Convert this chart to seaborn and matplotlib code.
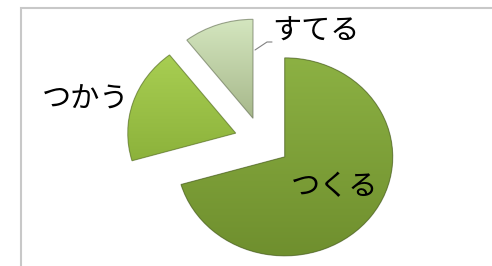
import numpy as np
import matplotlib
matplotlib.use("Agg")
import matplotlib.pyplot as plt
from matplotlib.patches import Rectangle, Wedge
import seaborn as sns

# データ
labels = ["つくる", "つかう", "すてる"]
values = [70.5, 19.0, 10.5]
explode = [0.27, 0.25, 0.24]
# 上から下へのグラデーション色
top_colors = ["#8cb143", "#a8ce52", "#d4e6bf"]
bottom_colors = ["#6f8f2e", "#8cb23b", "#a7b88b"]

W, H = 492, 266
cx, cy = 261.4, 140.8      # 円の中心 (画像ピクセル)
rx, ry = 108.0, 99.0        # 横・縦の半径 (ピクセル)

sns.set_theme(style="white")
plt.rcParams["font.family"] = ["Noto Sans CJK JP", "DejaVu Sans"]

fig = plt.figure(figsize=(W / 100, H / 100), dpi=100)
ax = fig.add_axes([0, 0, 1, 1])

wedges, _ = ax.pie(values, explode=explode, startangle=90, counterclock=False,
                   colors=top_colors, wedgeprops=dict(linewidth=0))

for w, c_top, c_bot in zip(wedges, top_colors, bottom_colors):
    b = w.get_path().get_extents()
    cmap = sns.blend_palette([c_bot, c_top], as_cmap=True)
    grad = np.linspace(0, 1, 256).reshape(-1, 1)
    im = ax.imshow(grad, cmap=cmap, origin="lower", aspect="auto",
                   extent=(b.x0, b.x1, b.y0, b.y1), zorder=2)
    im.set_clip_path(w)
    edge = Wedge(w.center, w.r, w.theta1, w.theta2, facecolor="none",
                 edgecolor=sns.dark_palette(c_bot, 3)[1], linewidth=0.8,
                 alpha=0.6, zorder=3)
    ax.add_patch(edge)

ax.set_aspect("auto")
ax.set_xlim((0 - cx) / rx, (W - cx) / rx)
ax.set_ylim((cy - H) / ry, cy / ry)
ax.axis("off")


def fp(x, y):
    return x / W, 1 - y / H


# 外枠
fig.patches.append(Rectangle(fp(21, 300), 1.0, (300 - 7.5) / H,
                             transform=fig.transFigure, fill=False,
                             edgecolor="#c8c8c8", linewidth=1.5))

# ラベル
label_pos = {"つくる": (335, 187), "つかう": (86, 99), "すてる": (316, 32)}
for lab in labels:
    x, y = label_pos[lab]
    fig.text(*fp(x, y), lab, fontsize=21, ha="center", va="center", color="black")

# すてる の引き出し線
xs = [255 / W, 267 / W, 272 / W]
ys = [1 - 50 / H, 1 - 42 / H, 1 - 42 / H]
fig.lines.append(plt.Line2D(xs, ys, transform=fig.transFigure,
                            color="#808080", linewidth=0.8))

fig.savefig("out.png", dpi=100)
